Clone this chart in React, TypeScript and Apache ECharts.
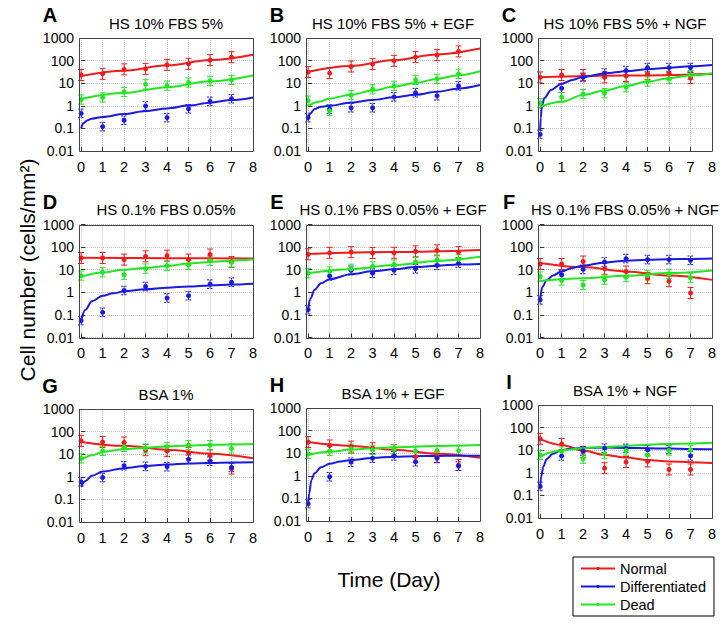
import React, { useEffect, useRef } from 'react';
import * as echarts from 'echarts';

const FONT = '"Liberation Sans", Arial, Helvetica, sans-serif';
const RED = '#ee1c1c';
const BLUE = '#1a1ae0';
const GREEN = '#22e622';

const DAYS = [0, 1, 2, 3, 4, 5, 6, 7];
const SERIES_NAMES = ['Normal', 'Differentiated', 'Dead'];
const X_TICKS = [0, 1, 2, 3, 4, 5, 6, 7, 8];
const Y_TICKS = [0.01, 0.1, 1, 10, 100, 1000];

// error bar multiplicative spread (per cell type)
const ERR_NORMAL = 1.75;
const ERR_DIFF = 1.55;
const ERR_DEAD = 1.6;

// ---- Panel A ----
const A_normal = [23, 26, 41, 43, 65, 72, 105, 142];
const A_diff = [0.46, 0.12, 0.23, 0.98, 0.3, 0.74, 1.57, 2.05];
const A_dead = [1.9, 2.35, 4.1, 8.9, 7.8, 10.7, 12.6, 14];
const A_normalFit = [[0, 21], [2, 36], [4, 62], [6, 106], [8, 182]];
const A_diffFit = [[0, 0.1], [0.1, 0.17], [0.3, 0.23], [0.5, 0.27], [1, 0.32], [2, 0.43], [3, 0.59], [4, 0.76], [5, 1.02], [6, 1.38], [7, 1.8], [8, 2.35]];
const A_deadFit = [[0, 2.0], [2, 3.66], [4, 6.7], [6, 12.2], [8, 22]];

// ---- Panel B ----
const B_normal = [31, 28, 55, 70, 98, 143, 175, 255];
const B_diff = [0.3, 0.72, 0.82, 0.82, 2.5, 3.8, 2.8, 7.6];
const B_dead = [1.7, 0.6, 3.0, 5.4, 7.6, 14, 15.6, 26];
const B_normalFit = [[0, 32], [2, 58], [4, 105], [6, 188], [8, 340]];
const B_diffFit = [[0, 0.27], [0.1, 0.46], [0.3, 0.72], [0.6, 0.9], [1, 1.0], [2, 1.4], [3, 1.8], [4, 2.4], [5, 3.1], [6, 4.2], [7, 5.8], [8, 8.3]];
const B_deadFit = [[0, 0.98], [0.5, 1.5], [1, 2.1], [2, 3.1], [3, 4.7], [4, 7.1], [5, 10.3], [6, 15.5], [7, 22.5], [8, 34]];

// ---- Panel C ----
const C_normal = [18, 23, 23, 18, 21, 26, 27, 17];
const C_diff = [0.054, 6.0, 18, 28, 36, 49, 49, 49];
const C_dead = [1.3, 2.4, 3.3, 3.6, 6.6, 11.8, 15.5, 23];
const C_normalFit = [[0, 18.5], [4, 21.8], [8, 25.5]];
const C_diffFit = [[0, 0.08], [0.03, 0.3], [0.08, 1.0], [0.2, 2.2], [0.5, 5], [1, 9.5], [1.5, 14], [2, 19], [3, 27], [4, 34], [5, 41], [6, 48], [7, 56], [8, 64]];
const C_deadFit = [[0, 0.9], [1, 1.5], [2, 3.0], [3, 4.7], [4, 7.6], [5, 11.8], [6, 16.6], [7, 22], [8, 27.5]];

// ---- Panel D ----
const D_normal = [33, 33, 28, 39, 42, 28, 47, 22];
const D_diff = [0.056, 0.13, 1.2, 1.8, 0.56, 0.71, 2.3, 2.8];
const D_dead = [5.5, 7.7, 6.0, 11.2, 15, 16.6, 25, 21];
const D_normalFit = [[0, 34], [4, 32.5], [8, 31]];
const D_diffFit = [[0, 0.055], [0.2, 0.17], [0.5, 0.4], [1, 0.7], [1.5, 0.9], [2, 1.1], [3, 1.35], [4, 1.6], [5, 1.8], [6, 2.0], [7, 2.2], [8, 2.4]];
const D_deadFit = [[0, 4.8], [1, 7.5], [2, 10], [3, 12], [4, 14.5], [5, 18.6], [6, 22], [7, 25], [8, 29]];

// ---- Panel E ----
const E_normal = [48, 56, 60, 55, 56, 65, 72, 60];
const E_diff = [0.17, 5.3, 9.4, 7.0, 9.4, 11, 15.5, 19.6];
const E_dead = [7, 8.4, 11, 14, 17, 22, 28, 29];
const E_normalFit = [[0, 50], [4, 61], [8, 75]];
const E_diffFit = [[0, 0.17], [0.1, 0.52], [0.3, 1.3], [0.6, 2.5], [1, 3.8], [2, 6.3], [3, 8.5], [4, 10.5], [5, 13], [6, 15], [7, 17], [8, 18]];
const E_deadFit = [[0, 7], [2, 10.6], [4, 16], [6, 24.5], [8, 37]];

// ---- Panel F ----
const F_normal = [18, 18, 23, 11, 8.3, 4.2, 3.1, 0.93];
const F_diff = [0.46, 6.0, 10.3, 22, 31, 28, 28, 26];
const F_dead = [5.0, 3.3, 2.1, 3.6, 4.7, 5.6, 6.6, 4.4];
const F_normalFit = [[0, 20], [2, 13], [4, 8.4], [6, 5.5], [8, 3.55]];
const F_diffFit = [[0, 0.45], [0.1, 1.7], [0.3, 3.4], [0.6, 5.6], [1, 8.4], [1.5, 12], [2, 15], [3, 21], [4, 25], [5, 27.5], [6, 29], [7, 30], [8, 31]];
const F_deadFit = [[0, 3.2], [2, 4.2], [4, 5.4], [6, 7.1], [8, 9.3]];

// ---- Panel G ----
const G_normal = [39, 35, 33, 15, 14, 11.4, 9, 2.3];
const G_diff = [0.6, 0.93, 3.1, 2.9, 2.8, 5.9, 4.9, 2.6];
const G_dead = [6.5, 14, 21, 18, 21, 25, 25, 18];
const G_normalFit = [[0, 35], [2, 23.5], [4, 15.7], [6, 10.5], [8, 6.6]];
const G_diffFit = [[0, 0.36], [0.2, 0.65], [0.5, 1.1], [1, 1.7], [2, 2.4], [3, 3.0], [4, 3.5], [5, 3.9], [6, 4.1], [7, 4.3], [8, 4.4]];
const G_deadFit = [[0, 5.5], [0.5, 9], [1, 12.6], [2, 16.6], [3, 19.5], [4, 22], [5, 24], [6, 26], [7, 27], [8, 28]];

// ---- Panel H ----
const H_normal = [31, 22, 19.5, 16.6, 14, 7, 6.6, 3.0];
const H_diff = [0.059, 0.91, 4.0, 6.0, 7.6, 4.2, 6.0, 2.7];
const H_dead = [9.3, 12.7, 15.5, 14, 15, 12.7, 13, 13];
const H_normalFit = [[0, 31], [2, 21], [4, 14.1], [6, 9.4], [8, 6.3]];
const H_diffFit = [[0, 0.055], [0.05, 0.17], [0.15, 0.66], [0.3, 1.3], [0.6, 2.4], [1, 3.4], [1.5, 4.3], [2, 5.0], [3, 6.2], [4, 6.9], [5, 7.4], [6, 7.6], [7, 7.7], [8, 7.7]];
const H_deadFit = [[0, 8.3], [1, 11.5], [2, 14.5], [3, 16.5], [4, 18.5], [5, 19.5], [6, 21], [7, 22], [8, 23]];

// ---- Panel I ----
const I_normal = [32, 19, 8.5, 1.6, 3.0, 3.2, 1.4, 1.4];
const I_diff = [0.25, 5.6, 9.3, 12.3, 12, 10.3, 10.8, 5.6];
const I_dead = [6.2, 8.7, 4.2, 7, 9.7, 6.2, 9.7, 10.3];
const I_normalFit = [[0, 31], [1, 17], [2, 9.7], [3, 6.2], [4, 4.8], [5, 3.7], [6, 3.2], [7, 2.9], [8, 2.7]];
const I_diffFit = [[0, 0.25], [0.05, 0.7], [0.15, 1.9], [0.3, 4], [0.6, 7], [1, 10], [1.5, 12], [2, 12.6], [3, 13], [4, 12.6], [5, 12.2], [6, 11.8], [7, 11.3], [8, 11]];
const I_deadFit = [[0, 4.9], [0.5, 8], [1, 10], [2, 12.3], [3, 14], [4, 15.5], [5, 17.5], [6, 19], [7, 20], [8, 21.5]];

const LETTERS = ['A', 'B', 'C', 'D', 'E', 'F', 'G', 'H', 'I'];
const TITLES = [
  'HS 10% FBS 5%', 'HS 10% FBS 5% + EGF', 'HS 10% FBS 5% + NGF',
  'HS 0.1% FBS 0.05%', 'HS 0.1% FBS 0.05% + EGF', 'HS 0.1% FBS 0.05% + NGF',
  'BSA 1%', 'BSA 1% + EGF', 'BSA 1% + NGF',
];
const POINTS = [
  [A_normal, A_diff, A_dead], [B_normal, B_diff, B_dead], [C_normal, C_diff, C_dead],
  [D_normal, D_diff, D_dead], [E_normal, E_diff, E_dead], [F_normal, F_diff, F_dead],
  [G_normal, G_diff, G_dead], [H_normal, H_diff, H_dead], [I_normal, I_diff, I_dead],
];
const FITS = [
  [A_normalFit, A_diffFit, A_deadFit], [B_normalFit, B_diffFit, B_deadFit], [C_normalFit, C_diffFit, C_deadFit],
  [D_normalFit, D_diffFit, D_deadFit], [E_normalFit, E_diffFit, E_deadFit], [F_normalFit, F_diffFit, F_deadFit],
  [G_normalFit, G_diffFit, G_deadFit], [H_normalFit, H_diffFit, H_deadFit], [I_normalFit, I_diffFit, I_deadFit],
];

const COLORS = [RED, BLUE, GREEN];
const ERRS = [ERR_NORMAL, ERR_DIFF, ERR_DEAD];
const DASHED = [false, true, false];

// layout
const COL_LEFT = [79, 306, 538];
const ROW_TOP = [[38, 38, 38], [224.5, 224.5, 224.5], [409, 408, 405]];
const PW = 174;
const PH = 113;

function fmtNum(v: number) {
  return String(+Number(v).toPrecision(6));
}

function buildOption() {
  const grid: any[] = [];
  const xAxis: any[] = [];
  const yAxis: any[] = [];
  const series: any[] = [];
  const graphic: any[] = [];

  for (let p = 0; p < 9; p++) {
    const r = Math.floor(p / 3);
    const c = p % 3;
    const left = COL_LEFT[c];
    const top = ROW_TOP[r][c];
    grid.push({ left, top, width: PW, height: PH, show: false });
    xAxis.push({
      type: 'value', gridIndex: p, min: -0.1, max: 8, splitNumber: 8,
      axisLine: { show: false },
      axisTick: { show: true, inside: true, length: 4, lineStyle: { color: '#333' } },
      axisLabel: {
        fontSize: 14.5, color: '#000', fontFamily: FONT, margin: 8,
        formatter: (v: number) => (X_TICKS.indexOf(Math.round(v * 1000) / 1000) >= 0 ? String(Math.round(v)) : ''),
      },
      splitLine: { show: true, lineStyle: { type: 'dotted', color: '#c4c4c4', width: 1 } },
    });
    yAxis.push({
      type: 'log', logBase: 10, gridIndex: p, min: Y_TICKS[0], max: Y_TICKS[Y_TICKS.length - 1],
      axisLine: { show: false },
      axisTick: { show: true, inside: true, length: 4, lineStyle: { color: '#333' } },
      axisLabel: { fontSize: 14, color: '#000', fontFamily: FONT, margin: 5, formatter: (v: number) => fmtNum(v) },
      splitLine: { show: true, lineStyle: { type: 'dotted', color: '#c4c4c4', width: 1 } },
    });

    for (let s = 0; s < 3; s++) {
      const color = COLORS[s];
      series.push({
        type: 'line', name: SERIES_NAMES[s], xAxisIndex: p, yAxisIndex: p,
        data: FITS[p][s], smooth: 0.35, smoothMonotone: 'x',
        symbol: 'circle', symbolSize: 4, showSymbol: false,
        lineStyle: { color, width: 2 }, itemStyle: { color },
        z: 3, silent: true,
      });
      series.push({
        type: 'custom', xAxisIndex: p, yAxisIndex: p,
        data: POINTS[p][s].map((v, i) => [DAYS[i], v / ERRS[s], v * ERRS[s]]),
        encode: { x: 0, y: [1, 2] },
        z: 2, silent: true,
        renderItem: (params: any, api: any) => {
          const x = api.value(0);
          const lo = api.coord([x, api.value(1)]);
          const hi = api.coord([x, api.value(2)]);
          const w = 3;
          const style = { stroke: color, lineWidth: 1, lineDash: DASHED[s] ? [2, 1.5] : null, fill: null };
          return {
            type: 'group',
            children: [
              { type: 'line', shape: { x1: lo[0], y1: lo[1], x2: hi[0], y2: hi[1] }, style },
              { type: 'line', shape: { x1: lo[0] - w, y1: lo[1], x2: lo[0] + w, y2: lo[1] }, style },
              { type: 'line', shape: { x1: hi[0] - w, y1: hi[1], x2: hi[0] + w, y2: hi[1] }, style },
            ],
          };
        },
      });
      series.push({
        type: 'scatter', xAxisIndex: p, yAxisIndex: p,
        data: POINTS[p][s].map((v, i) => [DAYS[i], v]),
        symbol: 'circle', symbolSize: 5, itemStyle: { color, opacity: 1 },
        z: 4, silent: true,
      });
    }

    graphic.push({
      type: 'rect', z: 100, silent: true,
      shape: { x: left + 0.5, y: Math.round(top) + 0.5, width: PW, height: PH },
      style: { fill: 'none', stroke: '#444', lineWidth: 1 },
    });
    graphic.push({
      type: 'text', z: 100, silent: true, x: left + PW / 2, y: top - 15,
      style: { text: TITLES[p], fontSize: 15, fontFamily: FONT, fill: '#000', align: 'center', verticalAlign: 'middle' },
    });
    graphic.push({
      type: 'text', z: 100, silent: true, x: left - 29, y: top - 23,
      style: { text: LETTERS[p], fontSize: 20, fontWeight: 'bold', fontFamily: FONT, fill: '#000', align: 'center', verticalAlign: 'middle' },
    });
  }

  graphic.push({
    type: 'text', z: 100, silent: true, x: 27, y: 270, rotation: Math.PI / 2,
    style: { text: 'Cell number (cells/mm²)', fontSize: 21, fontFamily: FONT, fill: '#000', align: 'center', verticalAlign: 'middle' },
  });
  graphic.push({
    type: 'text', z: 100, silent: true, x: 389, y: 579,
    style: { text: 'Time (Day)', fontSize: 21, fontFamily: FONT, fill: '#000', align: 'center', verticalAlign: 'middle' },
  });

  return {
    animation: false,
    backgroundColor: '#fff',
    textStyle: { fontFamily: FONT },
    grid, xAxis, yAxis, series, graphic,
    legend: {
      data: SERIES_NAMES, orient: 'vertical', left: 573, top: 557,
      itemWidth: 34, itemHeight: 4, itemGap: 3, padding: [4, 8, 4, 7],
      borderColor: '#000', borderWidth: 1, selectedMode: false,
      textStyle: { fontSize: 14.5, color: '#000', fontFamily: FONT },
    },
  };
}

export default function App() {
  const ref = useRef<HTMLDivElement>(null);
  useEffect(() => {
    if (!ref.current) return;
    const chart = echarts.init(ref.current, null, { renderer: 'svg' });
    chart.setOption(buildOption() as any);
    return () => chart.dispose();
  }, []);
  return <div ref={ref} style={{ position: 'fixed', left: 0, top: 0, width: 726, height: 626 }} />;
}
